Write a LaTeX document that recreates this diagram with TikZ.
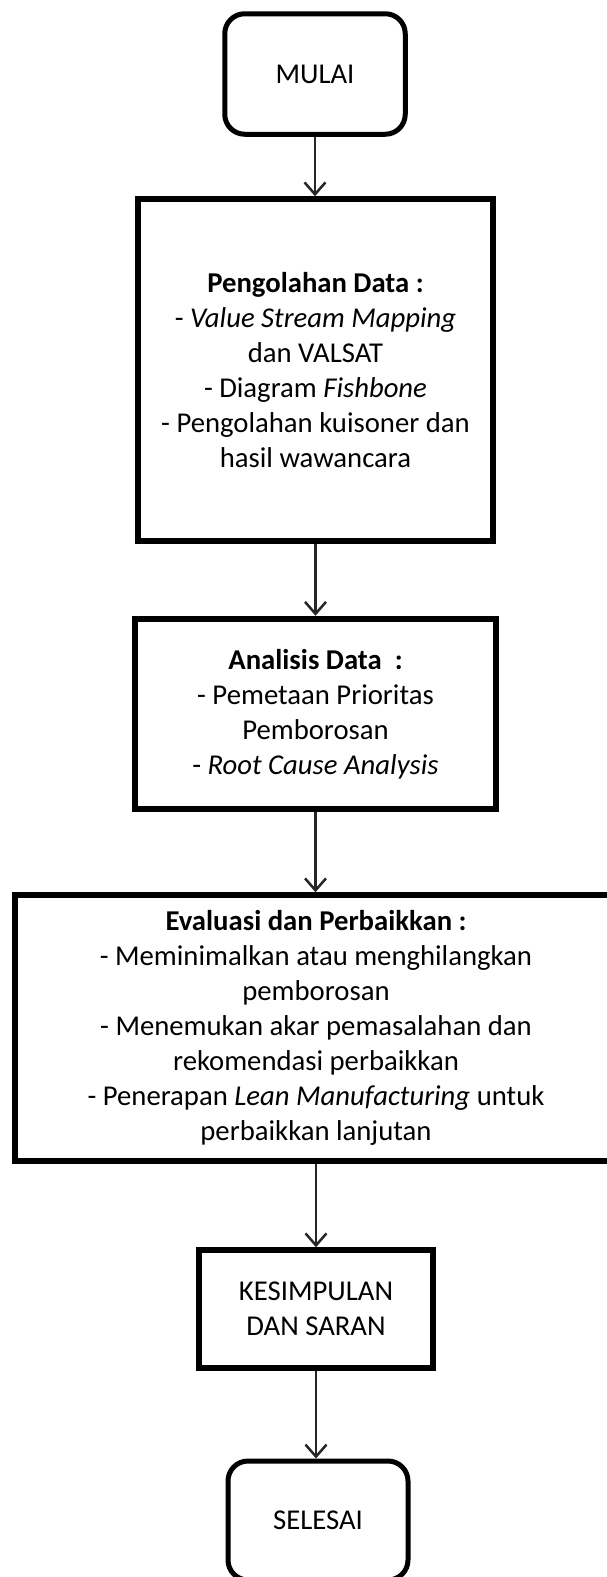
\documentclass[tikz,border=0pt]{standalone}
\usepackage{fontspec}
\setmainfont{Carlito}
\usetikzlibrary{arrows.meta}
\begin{document}
\begin{tikzpicture}[x=1pt,y=-1pt,
  box/.style={draw=black, line width=6pt, align=center, inner sep=0pt,
    font=\fontsize{28.7}{35}\selectfont},
  term/.style={box, line width=5pt, rounded corners=20pt},
  conn/.style={line width=2.5pt, draw=black!85,
    -{Straight Barb[length=12pt,width=21pt,line width=2.5pt]}}]
\useasboundingbox (0,0) rectangle (607,1577);
\clip (0,0) rectangle (607,1577);

\node[term, minimum width=180.5pt, minimum height=120.5pt] (mulai) at (315,74) {MULAI};

\node[box, minimum width=355pt, minimum height=341.5pt] (olah) at (315.5,370)
  {\textbf{Pengolahan Data :}\\
   - \textit{Value Stream Mapping}\\
   dan VALSAT\\
   - Diagram \textit{Fishbone}\\
   - Pengolahan kuisoner dan\\
   hasil wawancara};

\node[box, minimum width=360.5pt, minimum height=190.5pt] (analisis) at (315.5,714)
  {\textbf{Analisis Data \ :}\\
   - Pemetaan Prioritas\\
   Pemborosan\\
   - \textit{Root Cause Analysis}};

\node[box, minimum width=602pt, minimum height=265.5pt] (eval) at (316,1028)
  {\textbf{Evaluasi dan Perbaikkan :}\\
   - Meminimalkan atau menghilangkan\\
   pemborosan\\
   - Menemukan akar pemasalahan dan\\
   rekomendasi perbaikkan\\
   - Penerapan \textit{Lean Manufacturing} untuk\\
   perbaikkan lanjutan};

\node[box, line width=5.5pt, minimum width=234pt, minimum height=118pt] (simpul) at (316,1309)
  {KESIMPULAN\\DAN SARAN};

\node[term, minimum width=180pt, minimum height=119pt] (selesai) at (318,1520.5) {SELESAI};

\draw[conn] (mulai.south) -- (mulai.south |- olah.north);
\draw[conn] (olah.south) -- (olah.south |- analisis.north);
\draw[conn] (analisis.south) -- (analisis.south |- eval.north);
\draw[conn] (eval.south) -- (eval.south |- simpul.north);
\draw[conn] (simpul.south) -- (simpul.south |- selesai.north);
\end{tikzpicture}
\end{document}
